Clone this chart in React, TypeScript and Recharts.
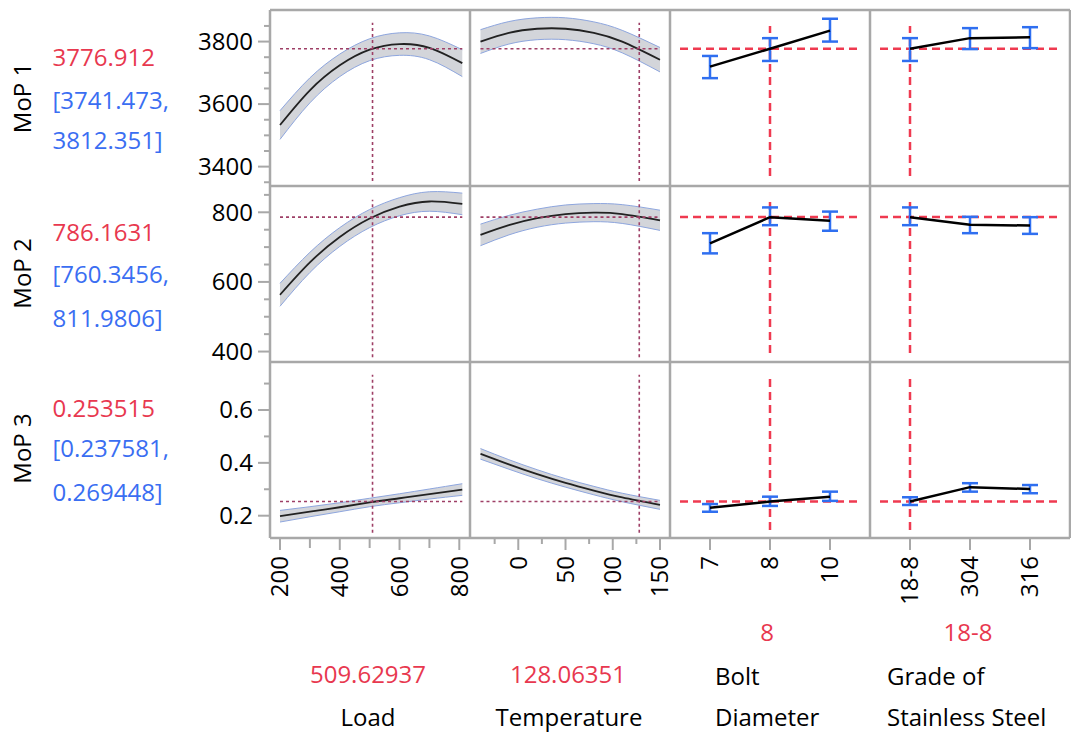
import React from 'react';
import { ComposedChart, Line, Area, XAxis, YAxis, ReferenceLine, ErrorBar } from 'recharts';

const FONT = '"Open Sans", "Noto Sans", "DejaVu Sans", sans-serif';
const FS = 24;
const RED = '#e8384f';
const BLUE = '#3a6ef2';
const GRID = '#a8a8a8';
const DOT = '#9e3f66';
const DASH_RED = '#ef3a50';
const ERR_BLUE = '#2f6ff0';

// ---------- factor settings ----------
const loadX = [200, 300, 400, 500, 600, 700, 810];
const tempX = [-40, -10, 20, 50, 80, 110, 150];
const boltCats = ['7', '8', '10'];
const gradeCats = ['18-8', '304', '316'];
const currentLoad = 509.62937;
const currentTemp = 128.06351;
const currentBoltIdx = 1;
const currentGradeIdx = 0;
const currentLoadText = '509.62937';
const currentTempText = '128.06351';
const currentBoltText = '8';
const currentGradeText = '18-8';

// ---------- responses ----------
const responses = ['MoP 1', 'MoP 2', 'MoP 3'];
const predicted = [3776.912, 786.1631, 0.253515];
const predictedText = ['3776.912', '786.1631', '0.253515'];
const ciLowText = ['[3741.473,', '[760.3456,', '[0.237581,'];
const ciHighText = ['3812.351]', '811.9806]', '0.269448]'];

// MoP 1
const mop1LoadMean = [3533, 3644, 3724, 3774, 3792, 3780, 3731];
const mop1LoadLo = [3487, 3604, 3688, 3739, 3756, 3742, 3688];
const mop1LoadHi = [3579, 3684, 3760, 3809, 3828, 3818, 3774];
const mop1TempMean = [3800, 3828, 3841, 3841, 3828, 3800, 3742];
const mop1TempLo = [3762, 3792, 3806, 3806, 3793, 3764, 3703];
const mop1TempHi = [3838, 3864, 3876, 3876, 3863, 3836, 3781];
const mop1BoltMean = [3720, 3777, 3835];
const mop1BoltLo = [3683, 3738, 3800];
const mop1BoltHi = [3754, 3811, 3873];
const mop1GradeMean = [3777, 3811, 3814];
const mop1GradeLo = [3738, 3776, 3779];
const mop1GradeHi = [3811, 3843, 3846];

// MoP 2
const mop2LoadMean = [563, 656, 729, 782, 816, 831, 824];
const mop2LoadLo = [530, 627, 702, 756, 790, 803, 793];
const mop2LoadHi = [596, 685, 756, 808, 842, 859, 855];
const mop2TempMean = [735, 763, 783, 795, 799, 795, 777];
const mop2TempLo = [704, 735, 757, 769, 773, 768, 748];
const mop2TempHi = [766, 791, 809, 821, 825, 822, 806];
const mop2BoltMean = [711, 786, 776];
const mop2BoltLo = [682, 763, 747];
const mop2BoltHi = [740, 814, 802];
const mop2GradeMean = [786, 764, 762];
const mop2GradeLo = [763, 740, 738];
const mop2GradeHi = [814, 787, 786];

// MoP 3
const mop3LoadMean = [0.198, 0.215, 0.232, 0.25, 0.266, 0.282, 0.299];
const mop3LoadLo = [0.176, 0.196, 0.215, 0.234, 0.249, 0.263, 0.277];
const mop3LoadHi = [0.22, 0.234, 0.249, 0.266, 0.283, 0.301, 0.321];
const mop3TempMean = [0.434, 0.394, 0.357, 0.324, 0.295, 0.269, 0.241];
const mop3TempLo = [0.414, 0.376, 0.34, 0.308, 0.279, 0.253, 0.224];
const mop3TempHi = [0.454, 0.412, 0.374, 0.34, 0.311, 0.285, 0.258];
const mop3BoltMean = [0.23, 0.2535, 0.272];
const mop3BoltLo = [0.215, 0.237, 0.256];
const mop3BoltHi = [0.244, 0.272, 0.291];
const mop3GradeMean = [0.2535, 0.308, 0.301];
const mop3GradeLo = [0.2405, 0.291, 0.285];
const mop3GradeHi = [0.2697, 0.323, 0.316];

// ---------- axes ----------
const yDomains: number[][] = [[3338, 3901], [370, 875.5], [0.1156, 0.7816]];
const yTicks = [
  [3350, 3400, 3450, 3500, 3550, 3600, 3650, 3700, 3750, 3800, 3850],
  [400, 450, 500, 550, 600, 650, 700, 750, 800, 850],
  [0.2, 0.3, 0.4, 0.5, 0.6, 0.7],
];
const yMajor = [[3400, 3600, 3800], [400, 600, 800], [0.2, 0.4, 0.6]];
const loadDomain = [166.5, 835.8];
const loadTicks = [200, 300, 400, 500, 600, 700, 800];
const loadLabels = [200, 400, 600, 800];
const tempDomain = [-51.1, 160.6];
const tempTicks = [-25, 0, 25, 50, 75, 100, 125, 150];
const tempLabels = [0, 50, 100, 150];
const catDomain = [-0.6667, 2.6667];
const catTicks = [0, 1, 2];

// vertical reference segment extents (data units) per row
const dotSpan = [[3354, 3860], [384, 836], [0.135, 0.733]];
const dashSpan = [[3370, 3850], [396, 830], [0.146, 0.7215]];

// ---------- layout ----------
const PLOT_X = [270, 470, 670, 870];
const PLOT_Y = [10, 186, 362];
const PW = 200;
const PH = 176;
const YAW = 90;
const XAH = 72;
const M = 12;

const contData = (xs: number[], m: number[], lo: number[], hi: number[]) =>
  xs.map((x, i) => ({ x, mean: m[i], band: [lo[i], hi[i]] }));
const catData = (cats: string[], m: number[], lo: number[], hi: number[]) =>
  cats.map((c, i) => ({ x: i, cat: c, mean: m[i], err: [m[i] - lo[i], hi[i] - m[i]] }));

const rowsContLoad = [
  contData(loadX, mop1LoadMean, mop1LoadLo, mop1LoadHi),
  contData(loadX, mop2LoadMean, mop2LoadLo, mop2LoadHi),
  contData(loadX, mop3LoadMean, mop3LoadLo, mop3LoadHi),
];
const rowsContTemp = [
  contData(tempX, mop1TempMean, mop1TempLo, mop1TempHi),
  contData(tempX, mop2TempMean, mop2TempLo, mop2TempHi),
  contData(tempX, mop3TempMean, mop3TempLo, mop3TempHi),
];
const rowsBolt = [
  catData(boltCats, mop1BoltMean, mop1BoltLo, mop1BoltHi),
  catData(boltCats, mop2BoltMean, mop2BoltLo, mop2BoltHi),
  catData(boltCats, mop3BoltMean, mop3BoltLo, mop3BoltHi),
];
const rowsGrade = [
  catData(gradeCats, mop1GradeMean, mop1GradeLo, mop1GradeHi),
  catData(gradeCats, mop2GradeMean, mop2GradeLo, mop2GradeHi),
  catData(gradeCats, mop3GradeMean, mop3GradeLo, mop3GradeHi),
];

const makeYTick = (major: number[]) => (props: any) => {
  const { x, y, payload } = props;
  const isMajor = major.includes(payload.value);
  return (
    <g>
      <line x1={x - (isMajor ? 12 : 6)} x2={x} y1={y} y2={y} stroke={GRID} strokeWidth={2} />
      {isMajor && (
        <text x={x - 17} y={y} dy="0.35em" textAnchor="end" fontSize={FS} fontFamily={FONT} fill="#000">
          {String(payload.value)}
        </text>
      )}
    </g>
  );
};

const makeXTick = (labelFor: (v: number) => string | null, shortLen: number) => (props: any) => {
  const { x, y, payload } = props;
  const label = labelFor(payload.value);
  const len = label !== null ? 12 : shortLen;
  return (
    <g>
      <line x1={x} x2={x} y1={y} y2={y + len} stroke={GRID} strokeWidth={2} />
      {label !== null && (
        <text
          transform={`translate(${x},${y + 18}) rotate(-90)`}
          dy="0.35em"
          textAnchor="end"
          fontSize={FS}
          fontFamily={FONT}
          fill="#000"
        >
          {label}
        </text>
      )}
    </g>
  );
};

const loadTick = makeXTick((v) => (loadLabels.includes(v) ? String(v) : null), 10);
const tempTick = makeXTick((v) => (tempLabels.includes(v) ? String(v) : null), 6);
const boltTick = makeXTick((v) => boltCats[v] ?? null, 6);
const gradeTick = makeXTick((v) => gradeCats[v] ?? null, 6);

function Panel({ r, c }: { r: number; c: number }) {
  const isCont = c < 2;
  const left = PLOT_X[c] - (c === 0 ? YAW : 0) - M;
  const top = PLOT_Y[r] - M;
  const width = PW + (c === 0 ? YAW : 0) + 2 * M;
  const height = PH + (r === 2 ? XAH : 0) + 2 * M;
  const xDomain = c === 0 ? loadDomain : c === 1 ? tempDomain : catDomain;
  const xTicks = c === 0 ? loadTicks : c === 1 ? tempTicks : catTicks;
  const xTick = c === 0 ? loadTick : c === 1 ? tempTick : c === 2 ? boltTick : gradeTick;
  const data: any[] =
    c === 0 ? rowsContLoad[r] : c === 1 ? rowsContTemp[r] : c === 2 ? rowsBolt[r] : rowsGrade[r];
  const pred = predicted[r];
  const xs = c === 0 ? loadX : tempX;
  const cur = c === 0 ? currentLoad : c === 1 ? currentTemp : c === 2 ? currentBoltIdx : currentGradeIdx;

  return (
    <div style={{ position: 'absolute', left, top, width, height }}>
      <ComposedChart width={width} height={height} data={data} margin={{ top: M, right: M, bottom: M, left: M }}>
        <XAxis
          type="number"
          dataKey="x"
          domain={xDomain}
          allowDataOverflow
          ticks={xTicks}
          interval={0}
          hide={r !== 2}
          height={XAH}
          tickLine={false}
          axisLine={false}
          tickSize={0}
          tickMargin={0}
          tick={xTick}
        />
        <YAxis
          type="number"
          domain={yDomains[r]}
          allowDataOverflow
          ticks={yTicks[r]}
          interval={0}
          hide={c !== 0}
          width={YAW}
          tickLine={false}
          axisLine={false}
          tickSize={0}
          tickMargin={0}
          tick={makeYTick(yMajor[r])}
        />
        {isCont && (
          <Area
            dataKey="band"
            type="natural"
            fill="#d3d5da"
            fillOpacity={1}
            stroke="#8ea6de"
            strokeWidth={1}
            isAnimationActive={false}
          />
        )}
        {isCont && (
          <Line dataKey="mean" type="natural" stroke="#222" strokeWidth={1.8} dot={false} isAnimationActive={false} />
        )}
        {isCont && (
          <ReferenceLine
            segment={[{ x: xs[0], y: pred }, { x: xs[xs.length - 1], y: pred }]}
            stroke={DOT}
            strokeWidth={1.6}
            strokeDasharray="3 3"
          />
        )}
        {isCont && (
          <ReferenceLine
            segment={[{ x: cur, y: dotSpan[r][0] }, { x: cur, y: dotSpan[r][1] }]}
            stroke={DOT}
            strokeWidth={1.6}
            strokeDasharray="3 3"
          />
        )}
        {!isCont && (
          <ReferenceLine
            segment={[{ x: -0.5, y: pred }, { x: 2.5, y: pred }]}
            stroke={DASH_RED}
            strokeWidth={2.5}
            strokeDasharray="8 5"
          />
        )}
        {!isCont && (
          <ReferenceLine
            segment={[{ x: cur, y: dashSpan[r][0] }, { x: cur, y: dashSpan[r][1] }]}
            stroke={DASH_RED}
            strokeWidth={2.5}
            strokeDasharray="8 5"
          />
        )}
        {!isCont && (
          <Line
            dataKey="mean"
            type="linear"
            stroke="#000"
            strokeWidth={2.5}
            dot={false}
            isAnimationActive={false}
          >
            <ErrorBar dataKey="err" direction="y" width={8} stroke={ERR_BLUE} strokeWidth={2.5} />
          </Line>
        )}
      </ComposedChart>
    </div>
  );
}

const labelCenters = [98, 273.5, 448.5];
const valueCenters = [
  [57.5, 100.8, 140.8],
  [233, 275, 319],
  [409, 449, 492.5],
];

export default function App() {
  const panels: React.ReactNode[] = [];
  for (let r = 0; r < 3; r++) for (let c = 0; c < 4; c++) panels.push(<Panel key={`${r}-${c}`} r={r} c={c} />);
  const gx0 = PLOT_X[0];
  const gx1 = PLOT_X[3] + PW;
  const gy0 = PLOT_Y[0];
  const gy1 = PLOT_Y[2] + PH;
  const txt = { fontFamily: FONT, fontSize: FS } as const;
  return (
    <div style={{ position: 'absolute', left: 0, top: 0, width: 1071, height: 736, background: '#fff', overflow: 'hidden' }}>
      {panels}
      <svg
        width={1071}
        height={736}
        style={{ position: 'absolute', left: 0, top: 0, pointerEvents: 'none' }}
      >
        {[...PLOT_X, gx1].map((x) => (
          <line key={`v${x}`} x1={x} x2={x} y1={gy0} y2={gy1} stroke={GRID} strokeWidth={2.5} />
        ))}
        {[...PLOT_Y, gy1].map((y) => (
          <line key={`h${y}`} x1={gx0} x2={gx1} y1={y} y2={y} stroke={GRID} strokeWidth={2.5} />
        ))}
        {responses.map((name, r) => (
          <g key={name}>
            <text
              transform={`translate(23,${labelCenters[r]}) rotate(-90)`}
              dy="0.35em"
              textAnchor="middle"
              fill="#000"
              {...txt}
            >
              {name}
            </text>
            <text x={52.5} y={valueCenters[r][0]} dy="0.35em" fill={RED} {...txt}>
              {predictedText[r]}
            </text>
            <text x={52.5} y={valueCenters[r][1]} dy="0.35em" fill={BLUE} {...txt}>
              {ciLowText[r]}
            </text>
            <text x={52.5} y={valueCenters[r][2]} dy="0.35em" fill={BLUE} {...txt}>
              {ciHighText[r]}
            </text>
          </g>
        ))}
        <text x={368} y={675} dy="0.35em" textAnchor="middle" fill={RED} {...txt}>{currentLoadText}</text>
        <text x={368} y={718} dy="0.35em" textAnchor="middle" fill="#000" {...txt}>Load</text>
        <text x={568} y={675} dy="0.35em" textAnchor="middle" fill={RED} {...txt}>{currentTempText}</text>
        <text x={569} y={718} dy="0.35em" textAnchor="middle" fill="#000" {...txt}>Temperature</text>
        <text x={767} y={633} dy="0.35em" textAnchor="middle" fill={RED} {...txt}>{currentBoltText}</text>
        <text x={715} y={677} dy="0.35em" fill="#000" {...txt}>Bolt</text>
        <text x={715} y={718} dy="0.35em" fill="#000" {...txt}>Diameter</text>
        <text x={968} y={633} dy="0.35em" textAnchor="middle" fill={RED} {...txt}>{currentGradeText}</text>
        <text x={887} y={677} dy="0.35em" fill="#000" {...txt}>Grade of</text>
        <text x={887} y={718} dy="0.35em" fill="#000" {...txt}>Stainless Steel</text>
      </svg>
    </div>
  );
}
